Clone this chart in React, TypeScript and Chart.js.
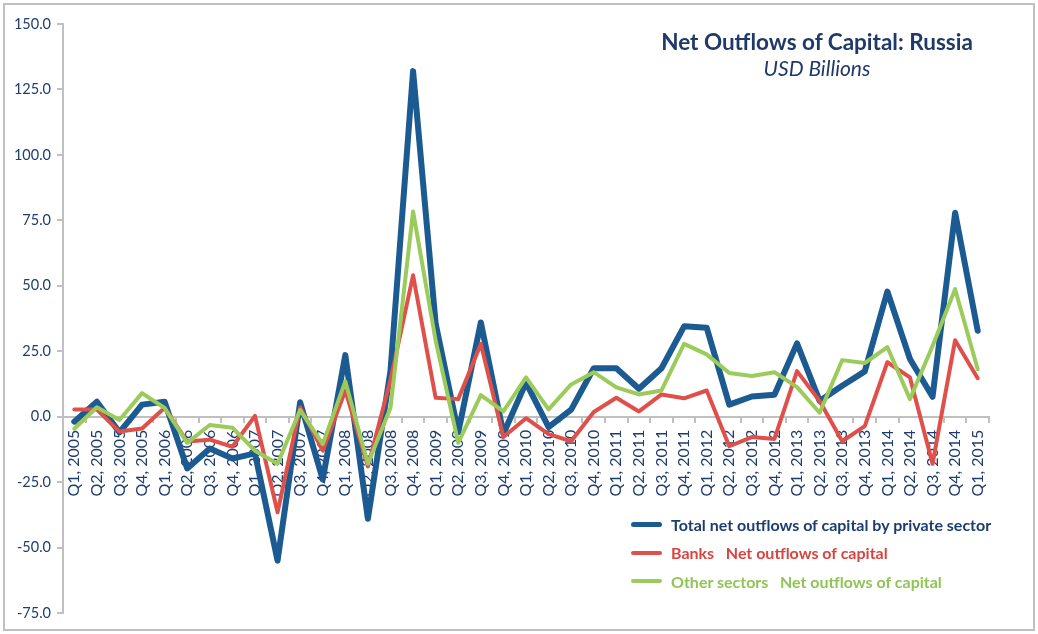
import { useEffect, useRef } from "react"
import Chart from "chart.js/auto"

// Quarters Q1 2005 .. Q1 2015
const quarters = [
  "Q1, 2005", "Q2, 2005", "Q3, 2005", "Q4, 2005",
  "Q1, 2006", "Q2, 2006", "Q3, 2006", "Q4, 2006",
  "Q1, 2007", "Q2, 2007", "Q3, 2007", "Q4, 2007",
  "Q1, 2008", "Q2, 2008", "Q3, 2008", "Q4, 2008",
  "Q1, 2009", "Q2, 2009", "Q3, 2009", "Q4, 2009",
  "Q1, 2010", "Q2, 2010", "Q3, 2010", "Q4, 2010",
  "Q1, 2011", "Q2, 2011", "Q3, 2011", "Q4, 2011",
  "Q1, 2012", "Q2, 2012", "Q3, 2012", "Q4, 2012",
  "Q1, 2013", "Q2, 2013", "Q3, 2013", "Q4, 2013",
  "Q1, 2014", "Q2, 2014", "Q3, 2014", "Q4, 2014",
  "Q1, 2015",
]

// USD billions
const totalPrivate = [
  -1.9, 5.7, -6, 4.6,
  5.7, -19.8, -12.2, -16,
  -14, -55, 5.5, -24,
  23.5, -39, 17.5, 132,
  35.5, -6, 36, -6.5,
  13, -4, 2.7, 18.5,
  18.5, 10.7, 18.5, 34.5,
  34, 4.6, 7.7, 8.4,
  28, 6, 11.8, 17.3,
  47.8, 22, 7.6, 77.9,
  32.8,
]

const banks = [
  2.7, 2.7, -5.7, -4.5,
  3.4, -9.5, -8.8, -11.5,
  0.3, -36.5, 3.5, -13,
  10, -19, 14, 54,
  7.2, 6.7, 27.8, -7.8,
  -0.6, -6.7, -9.4, 1.8,
  7.2, 2, 8.5, 7,
  10, -11.3, -7.8, -8.5,
  17.4, 6, -9.4, -3.6,
  20.8, 15, -18, 29.2,
  14.7,
]

const otherSectors = [
  -4.6, 3.6, -1.3, 9,
  3.3, -10, -3.2, -4.2,
  -13, -18, 2.5, -10.5,
  13.5, -18, 3.4, 78.4,
  29, -10, 8.2, 2,
  15, 2.8, 12.3, 17,
  11.2, 8.5, 10, 27.8,
  23.8, 16.7, 15.5, 17,
  11.3, 1.5, 21.6, 20.5,
  26.6, 6.7, 27, 48.7,
  18.1,
]

const yTicks = [-75, -50, -25, 0, 25, 50, 75, 100, 125, 150]

const BLUE = "#1c5a92"
const RED = "#e0504a"
const GREEN = "#9bcb5b"
const TEXT_BLUE = "#1f3d6e"
const AXIS_GREY = "#c0c0c0"
const FONT = "Lato, 'Open Sans', sans-serif"

const legendItems = [
  { color: BLUE, text: "#1c3d70", width: 5, label: "Total net outflows of capital by private sector" },
  { color: RED, text: "#d94340", width: 4, label: "Banks   Net outflows of capital" },
  { color: GREEN, text: "#8fc456", width: 4, label: "Other sectors   Net outflows of capital" },
]

export default function App() {
  const chartRef = useRef<HTMLCanvasElement>(null)
  const chartInstanceRef = useRef<Chart | null>(null)

  useEffect(() => {
    document.body.style.margin = "0"
    if (!chartRef.current) return
    const ctx = chartRef.current.getContext("2d")
    if (!ctx) return

    if (chartInstanceRef.current) chartInstanceRef.current.destroy()

    chartInstanceRef.current = new Chart(ctx, {
      type: "line",
      data: {
        labels: quarters,
        datasets: [
          {
            label: "Total net outflows of capital by private sector",
            data: totalPrivate,
            borderColor: BLUE,
            borderWidth: 6,
            order: 3,
          },
          {
            label: "Banks Net outflows of capital",
            data: banks,
            borderColor: RED,
            borderWidth: 4,
            order: 2,
          },
          {
            label: "Other sectors Net outflows of capital",
            data: otherSectors,
            borderColor: GREEN,
            borderWidth: 4,
            order: 1,
          },
        ].map((ds) => ({
          ...ds,
          fill: false,
          tension: 0,
          pointRadius: 0,
          pointHoverRadius: 0,
          borderJoinStyle: "round" as const,
          borderCapStyle: "round" as const,
        })),
      },
      options: {
        animation: false,
        responsive: false,
        layout: { padding: { top: 19, bottom: 16, left: 0, right: 44 } },
        plugins: {
          legend: { display: false },
          title: { display: false },
          tooltip: { enabled: false },
        },
        scales: {
          x: {
            type: "category",
            offset: true,
            position: { y: 0 },
            // labels hang below the zero line, keep plot area full height
            afterFit: (scale) => {
              scale.height = 0
            },
            grid: {
              drawOnChartArea: false,
              drawTicks: true,
              tickLength: 5,
              color: AXIS_GREY,
              lineWidth: 2,
              offset: true,
            },
            border: { color: AXIS_GREY, width: 2 },
            ticks: {
              autoSkip: false,
              minRotation: 90,
              maxRotation: 90,
              padding: 8,
              color: TEXT_BLUE,
              font: { family: FONT, size: 16 },
            },
          },
          y: {
            min: -75,
            max: 150,
            afterFit: (scale) => {
              scale.width = 58
            },
            afterBuildTicks: (scale) => {
              scale.ticks = yTicks.map((v) => ({ value: v }))
            },
            grid: {
              drawOnChartArea: false,
              tickLength: 6,
              color: AXIS_GREY,
              lineWidth: 2,
            },
            border: { color: AXIS_GREY, width: 2 },
            ticks: {
              padding: 6,
              color: TEXT_BLUE,
              font: { family: FONT, size: 14.5 },
              callback: (v) => Number(v).toFixed(1),
            },
          },
        },
      },
    })

    return () => {
      if (chartInstanceRef.current) {
        chartInstanceRef.current.destroy()
        chartInstanceRef.current = null
      }
    }
  }, [])

  return (
    <div
      style={{
        position: "absolute",
        left: 3,
        top: 3,
        width: 1028,
        height: 624,
        border: `2px solid ${AXIS_GREY}`,
        background: "#fff",
        fontFamily: FONT,
      }}
    >
      <canvas ref={chartRef} width={1028} height={624} />

      {/* title */}
      <div
        style={{
          position: "absolute",
          left: 612,
          top: 24,
          width: 400,
          textAlign: "center",
          color: "#1f3a68",
        }}
      >
        <div style={{ fontSize: 22.5, fontWeight: 700, lineHeight: "26px" }}>
          Net Outflows of Capital: Russia
        </div>
        <div style={{ fontSize: 21, fontStyle: "italic", lineHeight: "26px", marginTop: 0 }}>
          USD Billions
        </div>
      </div>

      {/* legend */}
      <div style={{ position: "absolute", left: 626, top: 505 }}>
        {legendItems.map((item) => (
          <div
            key={item.label}
            style={{ display: "flex", alignItems: "center", height: 28.5 }}
          >
            <span
              style={{
                display: "inline-block",
                width: 31,
                height: item.width,
                borderRadius: item.width,
                background: item.color,
                marginRight: 9,
              }}
            />
            <span
              style={{
                color: item.text,
                fontSize: 16,
                fontWeight: 700,
                whiteSpace: "pre",
              }}
            >
              {item.label}
            </span>
          </div>
        ))}
      </div>
    </div>
  )
}
